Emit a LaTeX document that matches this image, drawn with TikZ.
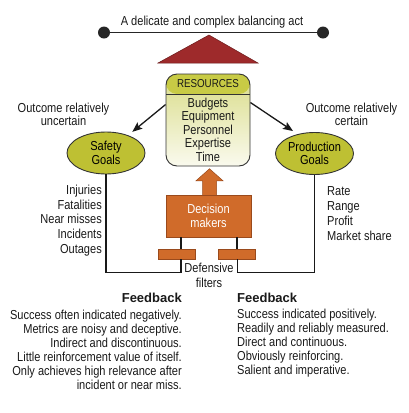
\documentclass[tikz,border=0pt]{standalone}
\usepackage{fontspec}
\setmainfont{Liberation Sans}[FakeStretch=0.85]
\newfontfamily\fbfont{Liberation Sans}
\usetikzlibrary{shapes.geometric,arrows.meta,calc}
\definecolor{goalcol}{HTML}{BEC033}
\definecolor{hdrcol}{HTML}{C8CB45}
\definecolor{restop}{HTML}{D9DC88}
\definecolor{resbot}{HTML}{FAFAEE}
\definecolor{orng}{HTML}{D06B2A}
\definecolor{orngdark}{HTML}{9A4A1C}
\definecolor{fulcol}{HTML}{9E2A2B}
\definecolor{fuldark}{HTML}{6A1A1A}
\definecolor{edge}{HTML}{333333}
\begin{document}
\begin{tikzpicture}[x=1pt,y=-1pt,
  lbl/.style={inner sep=0pt, text=black!90, font=\fontsize{13}{14.75}\selectfont},
  dot/.style={circle, fill=black!85, minimum size=12pt, inner sep=0pt},
  goal/.style={ellipse, draw=edge, line width=0.9pt, fill=goalcol, minimum width=78pt, minimum height=42pt, inner sep=0pt, align=center, font=\fontsize{13}{13.5}\selectfont},
  resbox/.style={rectangle, rounded corners=11pt, draw=edge, line width=0.9pt, minimum width=84pt, minimum height=92pt, inner sep=0pt, top color=restop, bottom color=resbot,
    path picture={\fill[hdrcol] (path picture bounding box.north west) rectangle ([yshift=-20pt]path picture bounding box.north east);
      \draw[edge, line width=0.9pt] ([yshift=-20pt]path picture bounding box.north west) -- ([yshift=-20pt]path picture bounding box.north east);}},
  dmbox/.style={rectangle, fill=orng, draw=orngdark, line width=0.5pt, minimum width=85pt, minimum height=42pt, inner sep=0pt, align=center, text=white, font=\fontsize{13}{14.5}\selectfont},
  fbar/.style={rectangle, fill=orng, draw=orngdark, line width=0.5pt, minimum width=37pt, minimum height=10pt, inner sep=0pt},
  wire/.style={draw=black!90, line width=1.4pt},
  conn/.style={draw=black!90, line width=1.3pt, -{Stealth[length=10pt,width=8pt,inset=2pt]}},
  fbhead/.style={inner sep=0pt, text=black!90, font=\fbfont\bfseries\fontsize{13}{14}\selectfont},
  fbtext/.style={lbl, font=\fontsize{13}{14.1}\selectfont}
]
\useasboundingbox (0,0) rectangle (409,413);

% balance beam
\node[lbl, anchor=base] (title) at (212,25) {A delicate and complex balancing act};
\node[dot] (ldot) at (104,32.5) {};
\node[dot] (rdot) at (323,32.5) {};
\draw[line width=1.2pt, black!85] (ldot) -- (rdot);
\filldraw[fill=fulcol, draw=fuldark, line width=0.5pt] (209,35) -- (158,63) -- (258,63) -- cycle;

% resources
\node[resbox] (res) at (208,120) {};
\node[lbl, font=\fontsize{11.5}{12}\selectfont] (reshead) at (208,84) {RESOURCES};
\node[lbl, align=center, font=\fontsize{13}{13.5}\selectfont] (reslist) at (208,129.7) {Budgets\\Equipment\\Personnel\\Expertise\\Time};

% goals
\node[goal] (safety) at (106,153) {Safety\\Goals};
\node[goal] (prod) at (314.5,153.5) {Production\\Goals};

\draw[conn] ($(res.north west)+(0,31)$) -- ($(safety.north east)+(-1.6,-6)$);
\draw[conn] ($(res.north east)+(0,29)$) -- ($(prod.north west)+(6.4,-7.3)$);

\node[lbl, align=center, font=\fontsize{13}{12}\selectfont] (outL) at (63.5,114) {Outcome relatively\\uncertain};
\node[lbl, align=center, font=\fontsize{13}{12}\selectfont] (outR) at (351.5,114) {Outcome relatively\\certain};

% decision makers
\node[dmbox] (dm) at (208.5,216) {Decision\\makers};
\filldraw[fill=orng, draw=orngdark, line width=0.5pt]
  ($(dm.north)+(-6,0)$) -- ($(dm.north)+(-6,-14)$) -- ($(dm.north)+(-12.5,-14)$)
  -- ($(dm.north)+(1,-26)$) -- ($(dm.north)+(14.5,-14)$) -- ($(dm.north)+(8,-14)$) -- ($(dm.north)+(8,0)$);

% filters
\node[fbar] (lbar) at (176.5,254) {};
\node[fbar] (rbar) at (236.5,254) {};
\coordinate (lxt) at ($(lbar.north)+(4.5,0)$);
\coordinate (rxt) at ($(rbar.north)+(0.5,0)$);
\coordinate (lxb) at ($(lbar.south)+(4.5,0)$);
\coordinate (rxb) at ($(rbar.south)+(1,0)$);
\draw[wire] (lxt) -- (lxt |- dm.south);
\draw[wire] (rxt) -- (rxt |- dm.south);
\draw[wire] (safety.south) |- ($(lxb)+(0,13)$) -- (lxb);
\draw[wire] (prod.south) |- ($(rxb)+(0,13)$) -- (rxb);
\node[lbl, align=center, font=\fontsize{13}{15}\selectfont] (filt) at (209,275.5) {Defensive\\filters};

% lists
\node[lbl, align=right, anchor=east] (slist) at (102,220.5) {Injuries\\Fatalities\\Near misses\\Incidents\\Outages};
\node[lbl, align=left, anchor=west, font=\fontsize{13}{15}\selectfont] (plist) at (327,213.5) {Rate\\Range\\Profit\\Market share};

% feedback
\node[fbhead, anchor=east] (fbL) at (182,298) {Feedback};
\node[fbhead, anchor=west] (fbR) at (237,298) {Feedback};
\node[fbtext, align=right, anchor=east] (fbLlist) at (182,350) {Success often indicated negatively.\\Metrics are noisy and deceptive.\\Indirect and discontinuous.\\Little reinforcement value of itself.\\Only achieves high relevance after\hspace*{2pt}\\incident or near miss.};
\node[fbtext, align=left, anchor=west] (fbRlist) at (237,343) {Success indicated positively.\\Readily and reliably measured.\\Direct and continuous.\\Obviously reinforcing.\\Salient and imperative.};
\end{tikzpicture}
\end{document}
